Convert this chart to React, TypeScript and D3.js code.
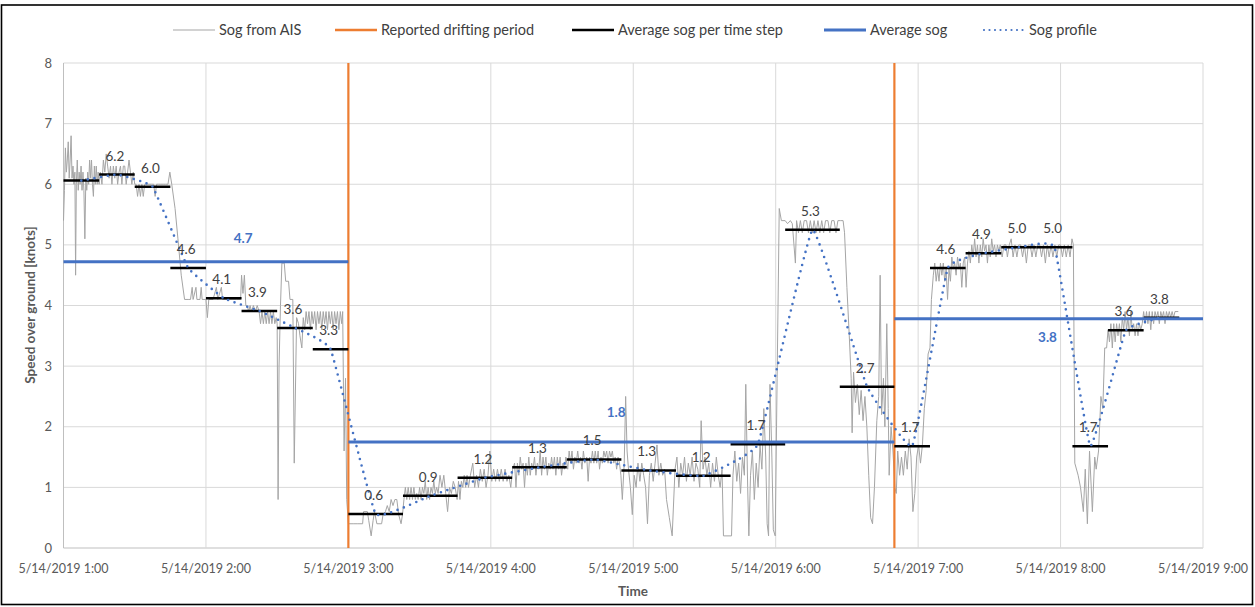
import React from 'react';
import * as d3 from 'd3';

// ---------- DATA ----------
// AIS speed over ground, [minutes after 5/14/2019 1:00, knots]
const aisBeforeDrift: [number, number][] = [
  [0,5.4],[0.4,5.9],[0.8,6.6],[1.2,6.2],[1.6,6.4],[2.0,6.7],[2.4,6.1],[2.8,6.4],[3.2,6.8],[3.6,6.1],[4.0,6.3],[4.4,6.0],[4.8,6.2],[5.1,4.5],[5.4,6.0],[5.8,6.4],[6.2,5.9],[6.6,6.2],[7.0,6.0],[7.4,6.3],[7.8,5.9],[8.2,6.2],[8.6,5.9],[9.0,5.1],[9.4,6.1],[9.8,5.9],[10.2,6.2],[10.6,6.0],[11.0,6.4],[11.4,6.1],[11.8,6.4],[12.2,6.0],[12.6,5.8],[13.0,6.3],[13.4,6.0],[13.8,6.3],[14.2,6.0],[14.6,6.2],[15.0,6.0],
  [15.5,6.2],[16.2,6.0],[16.8,6.4],[17.4,6.2],[18.0,6.5],[18.6,6.3],[19.2,6.1],[19.8,6.3],[20.4,6.0],[21.0,6.3],[21.6,6.1],[22.2,6.3],[22.8,6.0],[23.4,6.2],[24.0,6.3],[24.6,6.0],[25.2,6.3],[25.8,6.3],[26.4,6.0],[27.0,6.2],[27.6,6.4],[28.2,6.2],[28.8,6.0],[29.4,6.2],[30.0,6.0],
  [30.6,6.0],[31.2,5.8],[31.8,6.0],[32.4,5.8],[33.0,6.0],[33.6,5.8],[34.2,6.0],[35.0,6.0],[36.0,6.0],[37.0,6.0],[38.0,6.0],[38.6,5.8],[39.2,6.0],[40.0,6.0],[41.0,6.0],[42.0,6.0],[43.0,6.0],[44.0,6.0],[44.8,6.2],[45.6,6.0],
  [47.0,5.6],[48.2,5.1],[49.6,4.5],[51.0,4.1],
  [52.5,4.1],[53.5,4.1],[54.2,4.3],[54.6,4.1],[55.8,4.3],[56.2,4.1],[57.5,4.1],[58.0,4.3],[58.4,4.1],[60.0,4.1],[60.6,3.8],[61.2,4.1],[63.0,4.1],[64.4,4.3],[65.0,4.1],[66.5,4.3],[67.0,4.1],[69.0,4.1],[71.0,4.1],[73.0,4.1],[74.6,4.1],[75.0,4.5],[75.6,4.2],[76.2,4.5],[76.8,4.0],
  [77.4,4.0],[78.0,3.9],[78.6,4.0],[79.2,3.9],[80.0,4.0],[80.8,3.9],[81.6,4.0],[82.4,3.9],[83.0,3.7],[83.6,3.9],[84.2,3.7],[84.8,3.9],[85.4,3.7],[86.0,3.9],[86.6,3.7],[87.2,3.9],[87.8,3.7],[88.4,3.9],[89.0,3.7],[89.6,3.8],[90.0,3.7],[90.4,0.8],[90.8,3.0],[91.4,4.0],[92.0,4.7],[93.0,4.7],[93.6,4.4],[94.8,4.4],[95.4,4.1],[96.6,4.1],[97.2,1.4],[98.2,3.8],[99.0,3.7],[99.6,3.5],[100.4,3.3],[101.0,3.8],[101.6,3.6],[102.2,3.9],[102.8,3.7],[103.4,3.9],[104.0,3.6],[104.6,3.9],[105.2,3.7],[105.8,3.9],[106.4,3.6],[107.0,3.9],[107.6,3.7],[108.2,3.9],[108.8,3.6],[109.4,3.9],[110.0,3.7],[110.6,3.9],[111.2,3.6],[111.8,3.9],[112.4,3.7],[113.0,3.9],[113.6,3.6],[114.2,3.9],[114.8,3.7],[115.4,3.9],[116.0,3.6],[116.6,3.9],[117.2,3.7],[117.6,3.9],[118.2,1.6],[118.8,2.8],[119.3,0.8],
];

const aisDrift: [number, number][] = [
  [120,0.4],[122,0.4],[124,0.4],[126,0.4],[126.4,0.6],[128,0.6],[128.6,0.45],[129.6,0.2],[130.4,0.45],[131,0.6],[132,0.4],[134,0.4],[134.6,0.55],[135.6,0.6],[136.4,0.7],[137.2,0.6],[138,0.8],[138.8,0.7],[139.6,0.8],[140.4,0.8],[141.2,0.55],[142.2,0.4],[142.8,0.55],[143.4,0.8],
  [144,1.0],[144.6,0.8],[145.2,1.0],[145.8,0.8],[146.4,1.0],[147,0.8],[147.6,1.0],[148.2,0.8],[148.8,0.9],[149.4,0.8],[150,1.0],[150.6,0.8],[151.2,1.0],[151.8,0.9],[152.4,1.1],[153,0.8],[153.6,1.0],[154.2,0.8],[154.8,1.0],[155.4,0.9],[156,1.1],[156.6,0.9],[157.2,1.0],[157.8,0.9],[158.6,1.2],[159.4,1.0],[160.2,1.2],[161,0.9],[161.8,0.6],[162.6,1.0],[163.4,0.9],[164.2,1.1],[165,1.0],[165.8,0.8],
  [166.4,1.1],[167,0.8],[167.6,1.1],[168.2,1.0],[168.8,1.2],[169.4,1.0],[170,1.2],[170.6,1.0],[171.4,1.2],[172.4,1.4],[173.2,1.0],[174,1.2],[174.8,1.0],[175.6,1.3],[176.4,1.1],[177.2,1.3],[178,1.0],[178.8,1.2],[179.6,1.6],[180.4,1.1],[181.2,1.3],[182,1.1],[182.8,1.3],[183.6,1.1],[184.4,1.3],[185.2,1.1],[186,1.3],[186.8,1.1],[187.6,1.2],[188.4,1.0],[189.2,1.3],
  [190,1.4],[190.6,1.0],[191.2,1.4],[191.8,1.2],[192.4,1.5],[193,1.3],[193.6,1.4],[194.2,1.0],[194.8,1.4],[195.4,1.2],[196,1.5],[196.6,1.2],[197.2,1.4],[197.8,1.3],[198.4,1.5],[199,1.2],[199.6,1.4],[200.2,1.3],[200.8,1.6],[201.4,1.2],[202,1.5],[202.6,1.3],[203.2,1.5],[203.8,1.2],[204.4,1.4],[205,1.3],[205.6,1.5],[206.2,1.3],[206.8,1.5],[207.4,1.2],[208,1.5],[208.6,1.3],[209.2,1.5],[209.8,1.2],[210.4,1.4],[211,1.3],[211.6,1.5],
  [212.4,1.3],[213,1.6],[213.6,1.4],[214.2,1.6],[214.8,1.3],[215.4,1.5],[216,1.4],[216.6,1.6],[217.2,1.4],[217.8,1.5],[218.4,1.3],[219,1.6],[219.6,1.4],[220.4,1.5],[221,1.1],[221.6,1.5],[222.2,1.4],[222.8,1.6],[223.4,1.4],[224,1.6],[224.6,1.4],[225.2,1.6],[225.8,1.3],[226.4,1.5],[227,1.4],[227.6,1.6],[228.2,1.5],[228.8,1.6],[229.4,1.4],[230,1.6],[230.6,1.5],[231.2,1.6],[231.8,1.4],[232.4,1.5],[233,1.3],[233.6,1.5],[234.2,1.4],[234.8,1.2],
  [235.4,0.8],[236.2,1.4],[236.8,2.5],[237.4,1.6],[238,1.3],[238.8,1.0],[239.6,0.55],[240.4,1.2],[241.2,1.0],[242,1.4],[242.8,1.1],[243.6,1.4],[244.4,1.2],[245.2,1.0],[246,0.4],[246.8,1.2],[247.6,1.4],[248.4,1.1],[249.2,1.4],[250,1.7],[250.8,1.2],[251.6,1.4],[252.4,1.2],[253.2,1.3],[254,0.8],[255.2,0.5],[256.4,0.2],[257.6,1.3],[258.4,1.5],[259.2,1.0],[260,1.4],[260.8,1.2],[261.6,1.5],[262.4,1.1],[263.2,1.4],[264,1.2],[264.8,1.5],[265.6,1.1],[266.4,1.4],[267.2,1.3],[268,1.0],[268.6,2.1],[269.4,1.3],[270.2,1.5],[271,1.2],[271.8,1.4],[272.6,1.0],
  [273.4,1.4],[274.2,1.1],[275,1.5],[275.8,1.2],[276.6,1.0],[277.4,1.3],[278,0.2],[281.4,0.2],[282,1.2],[282.8,1.6],[283.6,1.1],[284.4,1.4],[285.2,0.9],[286,1.5],[286.8,1.2],[287.4,2.7],[288.2,1.0],[288.7,0.2],[289.4,1.2],[290.2,1.6],[291,0.8],[291.8,1.4],[292.6,1.0],[293.4,1.7],[294.2,1.3],[295,2.3],[295.8,1.5],[296.4,0.4],[297,0.2],[297.6,2.7],[298.4,1.5],[299,0.3],[299.8,0.2],[300.6,2.8],[301.5,5.6],
  [302.4,5.4],[304,5.4],[305,5.35],[306.2,5.4],[307,5.35],[308.3,4.7],[308.8,5.4],[309.6,5.2],[310.4,5.4],[311.2,5.2],[312,5.4],[313,5.4],[313.8,5.2],[314.6,5.4],[315.4,5.2],[316.2,5.4],[317,5.2],[317.8,5.4],[318.6,5.2],[319.4,5.4],[320.2,5.2],[321,5.4],[322,5.4],[322.8,5.2],[323.6,5.4],[324.6,5.4],[325.4,5.2],[326.2,5.4],[327.2,5.4],[328.4,5.4],
  [329,5.2],[330,4.3],[331,3.5],[331.8,2.8],[332.2,1.9],[332.8,2.9],[333.6,2.4],[334.4,2.7],[335.2,2.2],[336,2.6],[336.8,2.1],[337.6,2.5],[338.4,2.0],[339.2,1.2],[340,0.5],[340.8,0.4],[341.6,1.0],[342.6,2.1],[343.4,2.5],[344,4.5],[344.6,2.2],[345.4,2.8],[346,2.0],[346.8,3.7],[347.4,2.3],[347.8,1.2],[348.6,2.0],[349.4,1.6],
];

const aisAfterDrift: [number, number][] = [
  [350.2,1.0],[350.8,0.9],[351.4,1.6],[352.2,1.2],[353,1.5],[353.8,1.2],[354.6,1.6],[355.4,1.3],[356.2,1.8],[357,1.5],[357.8,0.6],[358.6,0.9],[359.4,1.5],[360.2,1.7],[361,1.4],[361.8,1.7],[362.6,2.3],[363.4,2.6],[364.2,3.2],[365,3.3],[365.6,4.1],[366.4,4.5],
  [367,4.7],[367.6,4.4],[368.2,4.6],[368.8,4.4],[369.4,4.7],[370,4.5],[370.6,4.7],[371.2,4.4],[371.8,4.6],[372.4,4.1],[373,4.6],[373.6,4.4],[374.2,4.8],[374.8,4.6],[375.4,4.7],[376,4.5],[376.6,4.8],[377.2,4.6],[377.8,4.7],[378.4,4.3],[379,4.7],[379.6,4.8],[380.2,4.3],[380.8,4.7],
  [381.4,4.9],[382,4.7],[382.6,5.0],[383.2,4.8],[383.8,5.1],[384.4,4.8],[385,5.0],[385.6,4.7],[386.2,5.0],[386.8,4.8],[387.4,5.1],[388,4.9],[388.6,5.0],[389.2,4.7],[389.8,5.0],[390.4,4.8],[391,5.1],[391.6,4.9],[392.2,5.0],[392.8,4.8],[393.4,5.0],[394,4.9],
  [394.6,5.0],[395.4,4.8],[396.2,5.0],[397,5.0],[397.6,4.8],[398.4,5.0],[399.2,5.1],[400,4.8],[400.8,5.0],[401.6,4.8],[402.4,5.0],[403.2,5.0],[404,4.8],[404.8,5.0],[405.6,4.7],[406.4,5.0],[407.2,5.0],[408,4.8],[408.8,5.0],[409.6,4.8],[410.4,5.0],[411.2,5.0],[412,4.8],[412.8,5.0],[413.6,4.7],[414.4,5.0],[415.2,4.8],[416,5.0],[416.8,4.8],[417.6,5.0],[418.4,4.8],[419.2,5.0],[420,5.0],[420.8,4.8],[421.6,5.0],[422.4,4.8],[423.2,5.0],[424,4.8],[424.8,5.1],
  [425.4,5.0],[426,1.4],[427.4,1.2],[428.4,1.0],[429.6,0.6],[430.4,1.3],[431.3,0.4],[432.2,1.6],[433.4,0.6],[434.4,1.5],[435,1.3],[436,1.6],[437,2.5],[437.8,2.3],[438.6,3.3],[439.4,3.3],[440,3.6],
  [440.6,3.4],[441.2,3.7],[441.8,3.3],[442.4,3.7],[443,3.4],[443.6,3.7],[444.2,3.5],[444.8,3.7],[445.4,3.4],[446,3.8],[446.6,3.6],[447.2,3.9],[447.8,3.6],[448.4,3.8],[449,3.5],[449.6,3.9],[450.2,3.6],[450.8,3.7],[451.4,3.5],[452,3.7],[452.6,3.5],[453.2,3.7],[453.8,3.6],[454.4,3.7],
  [455,3.9],[455.6,3.7],[456.2,3.9],[456.8,3.7],[457.4,3.9],[458,3.6],[458.6,3.9],[459.2,3.7],[459.8,3.9],[460.4,3.8],[461,3.9],[461.6,3.7],[462.2,3.9],[462.8,3.8],[463.4,3.9],[464,3.7],[464.6,3.9],[465.2,3.8],[465.8,3.9],[466.4,3.8],[467,3.9],[467.6,3.8],[468.2,3.9],[469.6,3.9],
];

// Average sog per time step (minutes after 1:00)
const stepStart = [0,15,30,45,60,75,90,105, 120,143,166,189,212,235,258,281,304,327, 350,365,380,395,410,425,440,455];
const stepEnd   = [15,30,45,60,75,90,105,120, 143,166,189,212,235,258,281,304,327,350, 365,380,395,410,425,440,455,470];
const stepSog   = [6.06,6.16,5.96,4.62,4.12,3.91,3.63,3.28, 0.56,0.86,1.16,1.33,1.46,1.28,1.19,1.71,5.25,2.66, 1.68,4.62,4.86,4.96,4.96,1.68,3.59,3.8];
const stepLabels = ['', '6.2','6.0','4.6','4.1','3.9','3.6','3.3', '0.6','0.9','1.2','1.3','1.5','1.3','1.2','1.7','5.3','2.7', '1.7','4.6','4.9','5.0','5.0','1.7','3.6','3.8'];

// Average sog per phase
const avgStart = [0, 120, 350];
const avgEnd = [120, 350, 480];
const avgSog = [4.72, 1.75, 3.78];
const avgLabels = ['4.7', '1.8', '3.8'];

// Reported drifting period boundaries
const driftBoundaries = [120, 350];

const yTicks = [0, 1, 2, 3, 4, 5, 6, 7, 8];

const legendNames = ['Sog from AIS', 'Reported drifting period', 'Average sog per time step', 'Average sog', 'Sog profile'];

// ---------- LAYOUT ----------
const W = 1255, H = 607;
const T0 = new Date(2019, 4, 14, 1, 0, 0);
const toDate = (m: number) => new Date(T0.getTime() + m * 60000);
const x = d3.scaleTime().domain([toDate(0), toDate(480)]).range([63.5, 1203]);
const y = d3.scaleLinear().domain([0, 8]).range([548, 63]);
const fmt = d3.timeFormat('%-m/%-d/%Y %-H:%M');
const xTicks = x.ticks(d3.timeHour.every(1) as any);

const FONT = 'Lato, "Open Sans", sans-serif';
const GRAY = '#A5A5A5';
const ORANGE = '#ED7D31';
const BLUE = '#4472C4';
const TXT = '#404040';

const aisLine = d3.line<[number, number]>().x(d => x(toDate(d[0]))).y(d => y(d[1]));
const profilePts: [number, number][] = stepSog.map((v, i) => [(stepStart[i] + stepEnd[i]) / 2, v]);
const profileLine = d3.line<[number, number]>().x(d => x(toDate(d[0]))).y(d => y(d[1])).curve(d3.curveCardinal.tension(0.75));

const avgLabelPos = [ { m: 75.7, dy: -18.5 }, { m: 232.8, dy: -25 }, { m: 414.5, dy: 23.5 } ];
const legendX = [173, 335, 572, 824, 983];

export default function App() {
  const allAis = [...aisBeforeDrift, ...aisDrift, ...aisAfterDrift];
  return (
    <svg width={W} height={H} style={{ position: 'absolute', left: 0, top: 0, background: '#fff' }} fontFamily={FONT}>
      <rect x={0} y={0} width={W} height={H} fill="#fff" />
      <rect x={1.5} y={5} width={1251} height={599.5} fill="none" stroke="#000" strokeWidth={1.6} />
      {/* gridlines */}
      {yTicks.map(t => (
        <line key={'gy' + t} x1={63.5} x2={1203} y1={y(t)} y2={y(t)} stroke={t === 0 ? '#BFBFBF' : '#D9D9D9'} strokeWidth={1} />
      ))}
      {xTicks.map((t, i) => (
        <line key={'gx' + i} x1={x(t)} x2={x(t)} y1={y(0)} y2={y(8)} stroke={i === 0 ? '#BFBFBF' : '#D9D9D9'} strokeWidth={1} />
      ))}
      {/* y tick labels */}
      {yTicks.map(t => (
        <text key={'ty' + t} x={52} y={y(t) + 4.5} textAnchor="end" fontSize={13} fill="#595959">{t}</text>
      ))}
      {/* x tick labels */}
      {xTicks.map((t, i) => (
        <text key={'tx' + i} x={x(t)} y={573} textAnchor="middle" fontSize={12.5} fill="#595959">{fmt(t)}</text>
      ))}
      {/* axis titles */}
      <text x={633} y={596} textAnchor="middle" fontSize={13.5} fontWeight="bold" fill="#595959">Time</text>
      <text transform={`translate(35,305) rotate(-90)`} textAnchor="middle" fontSize={13.5} fontWeight="bold" fill="#595959">Speed over ground [knots]</text>

      {/* AIS */}
      <path d={aisLine(allAis) || ''} fill="none" stroke={GRAY} strokeWidth={1} />
      {/* drift boundaries */}
      {driftBoundaries.map((m, i) => (
        <line key={'db' + i} x1={x(toDate(m))} x2={x(toDate(m))} y1={y(0)} y2={y(8)} stroke={ORANGE} strokeWidth={2.2} />
      ))}
      {/* step averages */}
      {stepSog.map((v, i) => (
        <line key={'st' + i} x1={x(toDate(stepStart[i]))} x2={x(toDate(stepEnd[i]))} y1={y(v)} y2={y(v)} stroke="#000" strokeWidth={2.5} />
      ))}
      {/* phase averages */}
      {avgSog.map((v, i) => (
        <line key={'av' + i} x1={x(toDate(avgStart[i]))} x2={x(toDate(avgEnd[i]))} y1={y(v)} y2={y(v)} stroke={BLUE} strokeWidth={3} />
      ))}
      {/* profile */}
      <path d={profileLine(profilePts) || ''} fill="none" stroke={BLUE} strokeWidth={2.6} strokeDasharray="0 6.7" strokeLinecap="round" />

      {/* step labels */}
      {stepSog.map((v, i) => stepLabels[i] ? (
        <text key={'sl' + i} x={x(toDate((stepStart[i] + stepEnd[i]) / 2)) - 2} y={y(v) - 14} textAnchor="middle" fontSize={13.5} fill={TXT}>{stepLabels[i]}</text>
      ) : null)}
      {/* avg labels */}
      {avgSog.map((v, i) => (
        <text key={'al' + i} x={x(toDate(avgLabelPos[i].m))} y={y(v) + avgLabelPos[i].dy} textAnchor="middle" fontSize={13.5} fontWeight="bold" fill={BLUE}>{avgLabels[i]}</text>
      ))}

      {/* legend */}
      {legendNames.map((name, i) => {
        const lx = legendX[i];
        const ly = 30;
        let line;
        if (i === 0) line = <line x1={lx} x2={lx + 42} y1={ly} y2={ly} stroke={GRAY} strokeWidth={1} />;
        else if (i === 1) line = <line x1={lx} x2={lx + 42} y1={ly} y2={ly} stroke={ORANGE} strokeWidth={2.5} />;
        else if (i === 2) line = <line x1={lx} x2={lx + 42} y1={ly} y2={ly} stroke="#000" strokeWidth={2.5} />;
        else if (i === 3) line = <line x1={lx} x2={lx + 42} y1={ly} y2={ly} stroke={BLUE} strokeWidth={3} />;
        else line = <line x1={lx + 1} x2={lx + 42} y1={ly} y2={ly} stroke={BLUE} strokeWidth={2.2} strokeDasharray="0 5.5" strokeLinecap="round" />;
        return (
          <g key={'lg' + i}>
            {line}
            <text x={lx + 46} y={ly + 5} fontSize={14.5} fill={TXT}>{name}</text>
          </g>
        );
      })}
    </svg>
  );
}
